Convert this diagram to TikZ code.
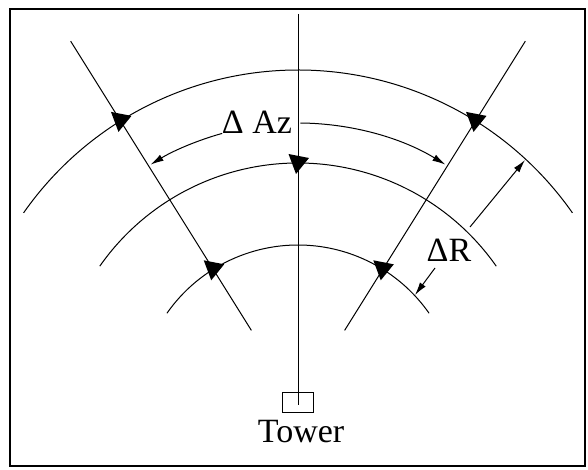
\documentclass[tikz,border=0pt]{standalone}
\usepackage{fontspec}
\setmainfont{Liberation Serif}
\usetikzlibrary{calc,arrows.meta}
\tikzset{
  thinline/.style={line width=1pt, black},
  frameline/.style={line width=2pt, black},
  dimarrow/.style={thinline, -{Latex[length=13pt,width=7pt]}},
  bigtri/.style={fill=black},
  lbl/.style={font=\fontsize{34}{40}\selectfont, inner sep=0pt}
}
\newcommand{\bigtriangleat}[1]{\fill[bigtri] ($(#1)+(-9.5,9)$) -- ($(#1)+(11,5)$) -- ($(#1)+(-2,-11)$) -- cycle;}
\begin{document}
\begin{tikzpicture}[x=1pt,y=1pt]
\useasboundingbox (0,0) rectangle (588,470);
\draw[frameline] (10,461) rectangle (585,4);
\coordinate (T) at (298,65);
% tower box and line
\node[draw, line width=1pt, minimum width=31pt, minimum height=20pt, inner sep=0pt] (box) at (298,67) {};
\coordinate (vtop) at (298,456);
\draw[thinline] (vtop) -- (T);
\node[lbl, anchor=base] (tower) at (301,27) {Tower};
% arcs
\draw[thinline] ($(T)+(145:335)$) arc[start angle=145, end angle=35, radius=335];
\draw[thinline] ($(T)+(145:242)$) arc[start angle=145, end angle=35, radius=242];
\draw[thinline] ($(T)+(145:160)$) arc[start angle=145, end angle=35, radius=160];
% radial lines
\draw[thinline] ($(T)+(122:88)$) -- ($(T)+(122:429)$);
\draw[thinline] ($(T)+(58:88)$) -- ($(T)+(58:429)$);
% intersection markers
\coordinate (o1) at ($(T)+(122:335)$);
\coordinate (o2) at ($(T)+(58:335)$);
\coordinate (m0) at ($(T)+(90:242)$);
\coordinate (i1) at ($(T)+(122:160)$);
\coordinate (i2) at ($(T)+(58:160)$);
\bigtriangleat{o1}
\bigtriangleat{o2}
\bigtriangleat{m0}
\bigtriangleat{i1}
\bigtriangleat{i2}
% Delta Az
\node[lbl] (daz) at (257,348) {Δ Az};
\draw[dimarrow] ($(T)+(105.6:282)$) arc[start angle=105.6, end angle=121.5, radius=282];
\draw[dimarrow] ($(T)+(89.5:282)$) arc[start angle=89.5, end angle=58.5, radius=282];
% Delta R
\coordinate (r1) at (470,243);
\coordinate (r1t) at (525,310);
\coordinate (r2) at (435,202);
\coordinate (r2t) at (415,175);
\draw[dimarrow] (r1) -- (r1t);
\draw[dimarrow] (r2) -- (r2t);
\node[lbl] (dr) at (449,220) {ΔR};
\end{tikzpicture}
\end{document}
